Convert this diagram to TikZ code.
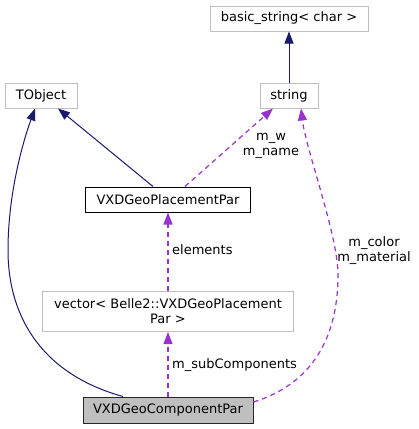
\documentclass[tikz,border=0pt]{standalone}
\usepackage{fontspec}
\setmainfont{DejaVu Sans}
\usetikzlibrary{arrows.meta}
\definecolor{boxgray}{HTML}{BFBFBF}
\definecolor{navyline}{HTML}{191970}
\definecolor{orchid}{HTML}{9A32CD}
\begin{document}
\begin{tikzpicture}[x=1pt,y=-1pt,
  every node/.style={font=\fontsize{13}{15}\selectfont, inner sep=0pt},
  cls/.style={draw=boxgray, line width=1pt, fill=white, minimum height=25pt},
  doc/.style={draw=black, line width=1pt, fill=white, minimum height=25pt},
  cur/.style={draw=black!85, line width=1pt, fill=boxgray, minimum height=26pt},
  inh/.style={draw=navyline, line width=1pt, -{Triangle[length=12pt,width=9pt]}},
  use/.style={draw=orchid, line width=1.2pt, dash pattern=on 5pt off 4pt, -{Triangle[length=12pt,width=9pt]}},
  lbl/.style={align=center}
]
\useasboundingbox (0,0) rectangle (419,429);

\node[cls, minimum width=158pt] (basic) at (289,18.5) {basic\_string< char >};
\node[cls, minimum width=58pt] (str) at (289,95.5) {string};
\node[cls, minimum width=72pt] (tobj) at (41,95.5) {TObject};
\node[doc, minimum width=165pt] (pp) at (168,199.5) {VXDGeoPlacementPar};
\node[cls, minimum width=251pt, minimum height=40pt, align=center] (vec) at (168,311.5) {vector< Belle2::VXDGeoPlacement\\Par >};
\node[cur, minimum width=170pt] (comp) at (168,410) {VXDGeoComponentPar};

% inheritance
\draw[inh] (str.north) -- (basic.south);
\draw[inh] ([xshift=-15pt]pp.north) -- ([xshift=17pt]tobj.south);
\draw[inh] ([xshift=-45pt]comp.north) .. controls (45,375) and (8,320) .. (8,250)
   .. controls (8,200) and (20,150) .. ([xshift=-6pt]tobj.south);

% usage
\draw[use] ([xshift=17pt]pp.north) -- ([xshift=-16pt]str.south);
\draw[use] ([yshift=8pt]comp.east) .. controls (318,382) and (338,330) .. (338,275)
   .. controls (338,235) and (306,150) .. ([xshift=12pt]str.south);
\draw[use] (vec.north) -- (pp.south);
\draw[use] (comp.north) -- (vec.south);

% labels
\node[lbl] (lw) at (271,146) {m\_w\\m\_name};
\node[lbl] (lc) at (374,251) {m\_color\\m\_material};
\node[anchor=west] (le) at (172,250) {elements};
\node[anchor=west] (ls) at (172,365) {m\_subComponents};
\end{tikzpicture}
\end{document}
